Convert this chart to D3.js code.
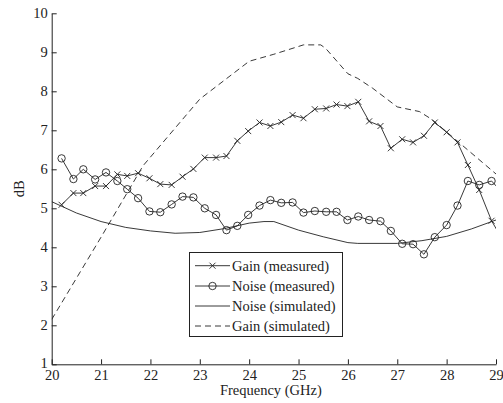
<!DOCTYPE html>
<html>
<head>
<meta charset="utf-8">
<script src="https://cdn.jsdelivr.net/npm/d3@7"></script>
<style>
  body { margin: 0; background: #fff; }
</style>
</head>
<body>
<svg width="503" height="403"></svg>
<script>
// measured sweep (last point lies past 29 GHz and is clipped)
var freqMeasured = [20.20, 20.44, 20.64, 20.88, 21.10, 21.33, 21.53, 21.75, 21.98, 22.20,
    22.43, 22.65, 22.87, 23.10, 23.33, 23.54, 23.76, 23.98, 24.21, 24.43,
    24.65, 24.88, 25.10, 25.33, 25.56, 25.77, 25.99, 26.21, 26.43, 26.66,
    26.87, 27.10, 27.32, 27.54, 27.76, 28.00, 28.22, 28.43, 28.66, 28.91, 29.13];
var gainMeasured = [5.09, 5.39, 5.39, 5.57, 5.57, 5.87, 5.83, 5.90, 5.77, 5.62,
    5.60, 5.81, 6.01, 6.30, 6.30, 6.34, 6.73, 6.98, 7.20, 7.11,
    7.21, 7.39, 7.31, 7.54, 7.56, 7.66, 7.62, 7.73, 7.23, 7.11,
    6.54, 6.77, 6.69, 6.86, 7.20, 6.95, 6.69, 6.11, 5.47, 4.68, 4.20];
var noiseMeasured = [6.28, 5.75, 6.00, 5.74, 5.92, 5.70, 5.49, 5.26, 4.92, 4.90,
    5.10, 5.30, 5.28, 5.00, 4.83, 4.44, 4.55, 4.83, 5.07, 5.21,
    5.14, 5.15, 4.89, 4.93, 4.91, 4.91, 4.70, 4.79, 4.70, 4.67,
    4.42, 4.09, 4.08, 3.82, 4.26, 4.57, 5.07, 5.70, 5.60, 5.70, 5.40];

var freqNoiseSim = [20.0, 20.5, 21.0, 21.5, 22.0, 22.5, 23.0, 23.5, 24.0, 24.3, 24.5,
    25.0, 25.5, 26.0, 26.2, 27.0, 27.5, 28.0, 28.5, 29.0];
var noiseSim = [5.17, 4.88, 4.66, 4.51, 4.42, 4.36, 4.38, 4.48, 4.62, 4.66, 4.66,
    4.44, 4.27, 4.12, 4.10, 4.10, 4.17, 4.28, 4.47, 4.70];

var freqGainSim = [20.0, 21.0, 21.85, 23.0, 24.0, 24.5, 25.0, 25.1, 25.45, 25.55,
    26.0, 26.2, 26.5, 27.0, 27.45, 27.7, 29.0];
var gainSim = [2.15, 4.26, 6.09, 7.80, 8.77, 8.95, 9.15, 9.19, 9.19, 9.10,
    8.45, 8.33, 8.08, 7.60, 7.48, 7.28, 5.88];

var xTicks = [20, 21, 22, 23, 24, 25, 26, 27, 28, 29];
var yTicks = [1, 2, 3, 4, 5, 6, 7, 8, 9, 10];

var legendLabels = ["Gain (measured)", "Noise (measured)", "Noise (simulated)", "Gain (simulated)"];

var svg = d3.select("svg");
var margin = {left: 51.7, right: 7, top: 13.3, bottom: 38.7};
var W = 503, H = 403;

var x = d3.scaleLinear().domain([20, 29]).range([margin.left, W - margin.right]);
var y = d3.scaleLinear().domain([1, 10]).range([H - margin.bottom, margin.top]);

var ink = "#222";
var serif = "'Liberation Serif', 'Times New Roman', serif";
var fs = 14.5;

svg.append("defs").append("clipPath").attr("id", "plot")
    .append("rect")
    .attr("x", x(20)).attr("y", y(10))
    .attr("width", x(29) - x(20)).attr("height", y(1) - y(10));

// axes, ticks pointing inward
var xAxis = svg.append("g")
    .attr("transform", "translate(0," + y(1) + ")")
    .call(d3.axisBottom(x).tickValues(xTicks).tickSizeInner(-5).tickSizeOuter(0));
var yAxis = svg.append("g")
    .attr("transform", "translate(" + x(20) + ",0)")
    .call(d3.axisLeft(y).tickValues(yTicks).tickSizeInner(-5).tickSizeOuter(0).tickPadding(4));

[xAxis, yAxis].forEach(function(a) {
    a.attr("font-family", serif).attr("font-size", fs);
    a.select(".domain").attr("stroke", ink).attr("stroke-width", 1);
    a.selectAll(".tick line").attr("stroke", ink);
    a.selectAll(".tick text").attr("fill", ink);
});
xAxis.selectAll(".tick text").attr("y", 16).attr("dy", null);
// the bottom y label sits just above the "20"
yAxis.selectAll(".tick text").filter(function(d) { return d === 1; }).attr("dy", "0.2em");

svg.append("text")
    .attr("x", (x(20) + x(29)) / 2 - 3).attr("y", 395)
    .attr("text-anchor", "middle")
    .attr("font-family", serif).attr("font-size", fs).attr("fill", ink)
    .text("Frequency (GHz)");

svg.append("text")
    .attr("transform", "translate(24," + (y(5.5)) + ") rotate(-90)")
    .attr("text-anchor", "middle")
    .attr("font-family", serif).attr("font-size", fs).attr("fill", ink)
    .text("dB");

var plot = svg.append("g").attr("clip-path", "url(#plot)");

function lineOf(xs, ys) {
    return d3.line()
        .x(function(d, i) { return x(xs[i]); })
        .y(function(d) { return y(d); })(ys);
}

plot.append("path").attr("d", lineOf(freqGainSim, gainSim))
    .attr("fill", "none").attr("stroke", ink).attr("stroke-width", 0.9)
    .attr("stroke-dasharray", "6,4");

plot.append("path").attr("d", lineOf(freqNoiseSim, noiseSim))
    .attr("fill", "none").attr("stroke", ink).attr("stroke-width", 0.9);

plot.append("path").attr("d", lineOf(freqMeasured, gainMeasured))
    .attr("fill", "none").attr("stroke", ink).attr("stroke-width", 0.9);

plot.append("path").attr("d", lineOf(freqMeasured, noiseMeasured))
    .attr("fill", "none").attr("stroke", ink).attr("stroke-width", 0.9);

function crossPath(cx, cy, r) {
    return "M" + (cx - r) + "," + (cy - r) + "L" + (cx + r) + "," + (cy + r) +
        "M" + (cx - r) + "," + (cy + r) + "L" + (cx + r) + "," + (cy - r);
}

plot.selectAll(".gx").data(gainMeasured).enter().append("path")
    .attr("class", "gx")
    .attr("d", function(d, i) { return crossPath(x(freqMeasured[i]), y(d), 3); })
    .attr("stroke", ink).attr("stroke-width", 0.9);

plot.selectAll(".nc").data(noiseMeasured).enter().append("circle")
    .attr("class", "nc")
    .attr("cx", function(d, i) { return x(freqMeasured[i]); })
    .attr("cy", function(d) { return y(d); })
    .attr("r", 3.7)
    .attr("fill", "none").attr("stroke", ink).attr("stroke-width", 0.9);

// legend
var lg = svg.append("g");
lg.append("rect")
    .attr("x", 189.5).attr("y", 252.5).attr("width", 153).attr("height", 84)
    .attr("fill", "#fff").attr("stroke", ink).attr("stroke-width", 1);

var rowY = [265.7, 286, 306, 326];
legendLabels.forEach(function(lab, i) {
    var ry = rowY[i];
    var ln = lg.append("line")
        .attr("x1", 195).attr("x2", 230).attr("y1", ry).attr("y2", ry)
        .attr("stroke", ink).attr("stroke-width", 0.9);
    if (i === 3) ln.attr("stroke-dasharray", "6,4");
    if (i === 0) lg.append("path").attr("d", crossPath(212.5, ry, 3))
        .attr("stroke", ink).attr("stroke-width", 0.9);
    if (i === 1) lg.append("circle").attr("cx", 212.5).attr("cy", ry).attr("r", 3.7)
        .attr("fill", "none").attr("stroke", ink).attr("stroke-width", 0.9);
    lg.append("text").attr("x", 232).attr("y", ry + 5)
        .attr("font-family", serif).attr("font-size", fs).attr("fill", ink)
        .text(lab);
});
</script>
</body>
</html>
